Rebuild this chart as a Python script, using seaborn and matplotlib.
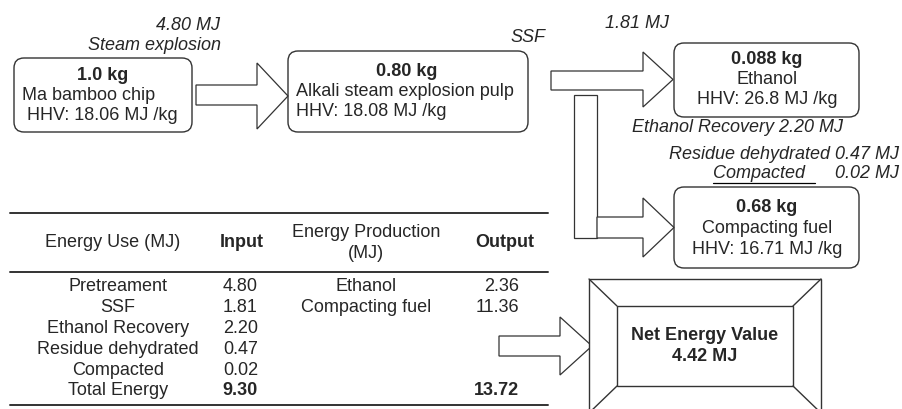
import numpy as np
import matplotlib.pyplot as plt
import seaborn as sns
from matplotlib.patches import FancyBboxPatch, Polygon, Rectangle

# data
node_mass = ["1.0 kg", "0.80 kg", "0.088 kg", "0.68 kg"]
node_names = ["Ma bamboo chip", "Alkali steam explosion pulp", "Ethanol", "Compacting fuel"]
node_hhv = ["18.06", "18.08", "26.8", "16.71"]

use_labels = ["Pretreament", "SSF", "Ethanol Recovery", "Residue dehydrated", "Compacted", "Total Energy"]
use_values = ["4.80", "1.81", "2.20", "0.47", "0.02", "9.30"]
prod_labels = ["Ethanol", "Compacting fuel"]
prod_values = ["2.36", "11.36"]
total_output = "13.72"
net_energy = "4.42"

# style
sns.set_theme(style="white")
plt.rcParams['font.family'] = ['Liberation Sans', 'DejaVu Sans']
FS = 13
LC = '#333333'

fig = plt.figure(figsize=(9.02, 4.10), dpi=100)
ax = fig.add_axes([0, 0, 1, 1])
ax.set_xlim(0, 902)
ax.set_ylim(410, 0)
ax.axis('off')


def rbox(x0, y0, x1, y1):
    ax.add_patch(FancyBboxPatch((x0, y0), x1 - x0, y1 - y0,
                                boxstyle="round,pad=0,rounding_size=10",
                                fc='white', ec=LC, lw=1.0))


def arrow(x0, x1, sy0, sy1, hy0, hy1, xt):
    yt = (hy0 + hy1) / 2
    pts = [(x0, sy0), (x1, sy0), (x1, hy0), (xt, yt), (x1, hy1), (x1, sy1), (x0, sy1)]
    ax.add_patch(Polygon(pts, closed=True, fc='white', ec=LC, lw=0.9))


# process boxes
rbox(14, 59, 192, 133)
ax.text(103, 76, node_mass[0], fontsize=FS, fontweight='bold', ha='center', va='center')
ax.text(22, 96, node_names[0], fontsize=FS, ha='left', va='center')
ax.text(27, 116, f"HHV: {node_hhv[0]} MJ /kg", fontsize=FS, ha='left', va='center')

rbox(288, 52, 528, 133)
ax.text(407, 71, node_mass[1], fontsize=FS, fontweight='bold', ha='center', va='center')
ax.text(296, 91, node_names[1], fontsize=FS, ha='left', va='center')
ax.text(296, 112, f"HHV: {node_hhv[1]} MJ /kg", fontsize=FS, ha='left', va='center')

rbox(674, 44, 859, 118)
ax.text(767, 60, node_mass[2], fontsize=FS, fontweight='bold', ha='center', va='center')
ax.text(767, 80, node_names[2], fontsize=FS, ha='center', va='center')
ax.text(767, 100, f"HHV: {node_hhv[2]} MJ /kg", fontsize=FS, ha='center', va='center')

rbox(674, 188, 859, 269)
ax.text(767, 208, node_mass[3], fontsize=FS, fontweight='bold', ha='center', va='center')
ax.text(767, 229, node_names[3], fontsize=FS, ha='center', va='center')
ax.text(767, 250, f"HHV: {node_hhv[3]} MJ /kg", fontsize=FS, ha='center', va='center')

# arrows
arrow(196, 257, 86, 106, 64, 130, 288)
arrow(551, 643, 72, 91, 53, 108, 673)
ax.add_patch(Rectangle((574, 96), 23, 143, fc='white', ec=LC, lw=0.9))
arrow(597, 643, 218, 239, 199, 258, 674)
arrow(499, 560, 337, 357, 318, 376, 592)

# italic step annotations
ax.text(220, 25, f"{use_values[0]} MJ", fontsize=FS, style='italic', ha='right', va='center')
ax.text(221, 45, "Steam explosion", fontsize=FS, style='italic', ha='right', va='center')
ax.text(545, 38, "SSF", fontsize=FS, style='italic', ha='right', va='center')
ax.text(605, 23, f"{use_values[1]} MJ", fontsize=FS, style='italic', ha='left', va='center')
ax.text(632, 127, f"Ethanol Recovery {use_values[2]} MJ", fontsize=FS, style='italic',
        ha='left', va='center')
ax.text(899, 155, f"Residue dehydrated {use_values[3]} MJ", fontsize=FS, style='italic',
        ha='right', va='center')
ax.text(713, 174, "Compacted", fontsize=FS, style='italic', ha='left', va='center')
ax.plot([713, 815], [184, 184], color='black', lw=0.9)
ax.text(899, 174, f"{use_values[4]} MJ", fontsize=FS, style='italic', ha='right', va='center')

# net energy frame
ox0, oy0, ox1, oy1 = 589, 280, 821, 414
ix0, iy0, ix1, iy1 = 617, 307, 793, 387
ax.add_patch(Rectangle((ox0, oy0), ox1 - ox0, oy1 - oy0, fc='white', ec=LC, lw=1.0))
ax.add_patch(Rectangle((ix0, iy0), ix1 - ix0, iy1 - iy0, fc='white', ec=LC, lw=1.0))
for (a, b), (c, d) in [((ox0, oy0), (ix0, iy0)), ((ox1, oy0), (ix1, iy0)),
                       ((ox0, oy1), (ix0, iy1)), ((ox1, oy1), (ix1, iy1))]:
    ax.plot([a, c], [b, d], color=LC, lw=1.0)
ax.text(705, 336, "Net Energy Value", fontsize=FS, fontweight='bold', ha='center', va='center')
ax.text(705, 357, f"{net_energy} MJ", fontsize=FS, fontweight='bold', ha='center', va='center')

# table
for yl in [214, 273, 406]:
    ax.plot([10, 548], [yl, yl], color=LC, lw=1.4)
ax.text(113, 243, "Energy Use (MJ)", fontsize=FS, ha='center', va='center')
ax.text(242, 243, "Input", fontsize=FS, fontweight='bold', ha='center', va='center')
ax.text(366, 233, "Energy Production", fontsize=FS, ha='center', va='center')
ax.text(366, 253, "(MJ)", fontsize=FS, ha='center', va='center')
ax.text(505, 243, "Output", fontsize=FS, fontweight='bold', ha='center', va='center')

row_y = 287
row_h = 20.8
last = len(use_labels) - 1
for i, (lab, val) in enumerate(zip(use_labels, use_values)):
    y = row_y + i * row_h
    ax.text(118, y, lab, fontsize=FS, ha='center', va='center')
    ax.text(258, y, val, fontsize=FS, ha='right', va='center',
            fontweight='bold' if i == last else 'normal')
for i, (lab, val) in enumerate(zip(prod_labels, prod_values)):
    y = row_y + i * row_h
    ax.text(366, y, lab, fontsize=FS, ha='center', va='center')
    ax.text(519, y, val, fontsize=FS, ha='right', va='center')
ax.text(519, row_y + last * row_h, total_output, fontsize=FS, fontweight='bold',
        ha='right', va='center')

fig.savefig("out.png", dpi=100, facecolor='white')
